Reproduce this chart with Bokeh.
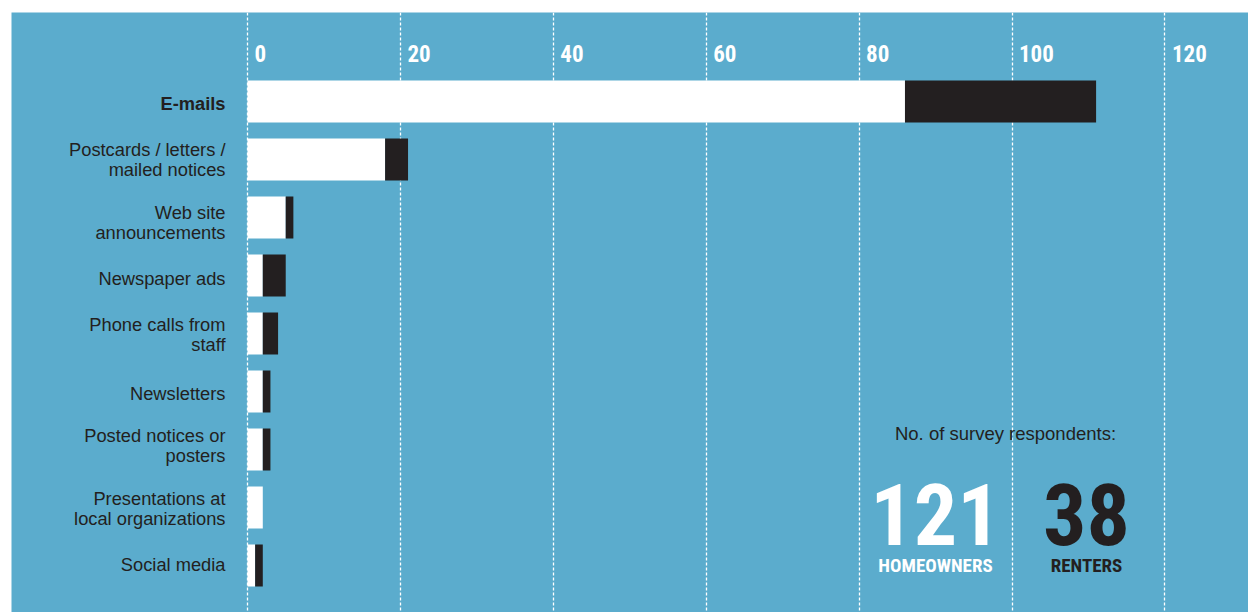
from bokeh.plotting import figure
from bokeh.models import Range1d, FixedTicker, ColumnDataSource
from bokeh.core.properties import value
from bokeh.embed import file_html
from bokeh.resources import INLINE

# ---- data ----
categories = ["E-mails", "Postcards / letters /\nmailed notices", "Web site\nannouncements",
              "Newspaper ads", "Phone calls from\nstaff", "Newsletters",
              "Posted notices or\nposters", "Presentations at\nlocal organizations", "Social media"]
homeowners = [86, 18, 5, 2, 2, 2, 2, 2, 1]
renters = [25, 3, 1, 3, 2, 1, 1, 0, 1]
tick_values = [0, 20, 40, 60, 80, 100, 120]
tick_labels = ["0", "20", "40", "60", "80", "100", "120"]
summary_title = "No. of survey respondents:"
group_counts = [121, 38]
group_names = ["HOMEOWNERS", "RENTERS"]

# ---- styling ----
BLUE = "#5BACCD"
DARK = "#231F20"
SANS = "Liberation Sans"
COND = "Roboto Condensed"
label_styles = ["bold"] + ["normal"] * (len(categories) - 1)
label_nudge_px = [2, 0, 5, 3, 1, 2, -4, 1, -1]   # small vertical nudges of labels

W, H = 1248, 612
left_pad, top_pad = 11, 12
x0_px = 247.0
px_per_unit = 7.645
row0_px, row_step = 101.0, 58.0

x_start = -(x0_px - left_pad) / px_per_unit
x_end = (W - x0_px) / px_per_unit
y_top = (top_pad - row0_px) / row_step
y_bot = (H - row0_px) / row_step


def dx(px):
    return (px - x0_px) / px_per_unit


def dy(py):
    return (py - row0_px) / row_step


p = figure(width=W, height=H, output_backend="svg", toolbar_location=None,
           x_range=Range1d(x_start, x_end), y_range=Range1d(y_bot, y_top),
           x_axis_location=None, y_axis_location=None,
           min_border_left=left_pad, min_border_top=top_pad,
           min_border_right=0, min_border_bottom=0)
p.background_fill_color = BLUE
p.border_fill_color = "white"
p.outline_line_color = None

p.xgrid.ticker = FixedTicker(ticks=tick_values)
p.xgrid.grid_line_color = "white"
p.xgrid.grid_line_dash = "3 2"
p.xgrid.grid_line_width = 1.3
p.ygrid.visible = False

ys = list(range(len(categories)))
totals = [h + r for h, r in zip(homeowners, renters)]
src = ColumnDataSource(dict(y=ys, cat=categories, home=homeowners, total=totals,
                            zero=[0] * len(ys), style=label_styles,
                            nudge=label_nudge_px))

p.hbar(y="y", left="zero", right="home", height=0.724, source=src,
       fill_color="white", line_color=None)
p.hbar(y="y", left="home", right="total", height=0.724, source=src,
       fill_color=DARK, line_color=None)

# category labels
p.text(x="zero", y="y", text="cat", source=src, x_offset=-22, y_offset="nudge",
       text_align="right", text_baseline="middle", text_font=value(SANS),
       text_font_size="18.3px", text_color=DARK, text_line_height=0.92,
       text_font_style="style")

# tick labels at top
tsrc = ColumnDataSource(dict(x=tick_values, t=tick_labels,
                             y=[dy(53)] * len(tick_values)))
p.text(x="x", y="y", text="t", source=tsrc, x_offset=7, text_align="left",
       text_baseline="middle", text_font=value(COND), text_font_size="23px",
       text_font_style="bold", text_color="white")

# summary block
p.text(x=[dx(1005)], y=[dy(433)], text=[summary_title], text_align="center",
       text_baseline="middle", text_font=value(SANS), text_font_size="18.5px",
       text_color=DARK)
bsrc = ColumnDataSource(dict(x=[dx(935), dx(1086)],
                             y=[dy(514)] * 2, y2=[dy(565)] * 2,
                             n=[str(c) for c in group_counts], name=group_names,
                             color=["white", DARK]))
p.text(x="x", y="y", text="n", source=bsrc, text_align="center",
       text_baseline="middle", text_font=value(COND), text_font_size="86px",
       text_font_style="bold", text_color="color")
p.text(x="x", y="y2", text="name", source=bsrc, text_align="center",
       text_baseline="middle", text_font=value(COND), text_font_size="19px",
       text_font_style="bold", text_color="color")

open("out.html", "w").write(file_html(p, INLINE))
